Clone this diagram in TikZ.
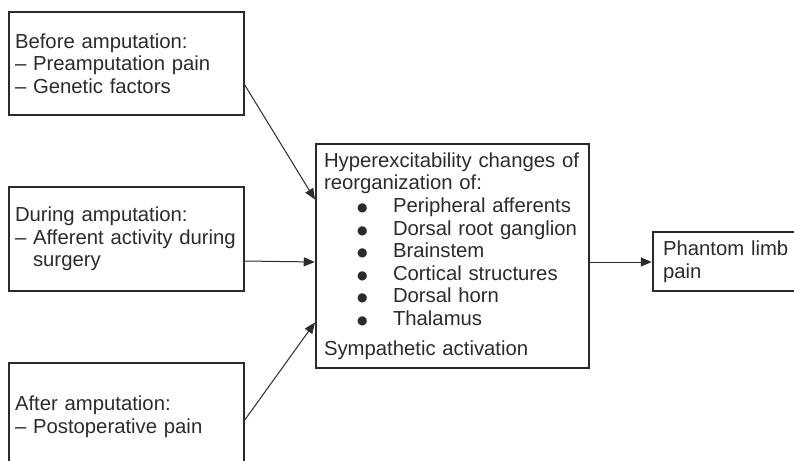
\documentclass[tikz,border=0pt]{standalone}
\usepackage{fontspec}
\setmainfont{Liberation Sans}
\newfontfamily\symfont{DejaVu Sans}
\usetikzlibrary{arrows.meta}
\definecolor{ink}{HTML}{2B2B2B}
\begin{document}
\begin{tikzpicture}[x=1pt,y=-1pt,
  box/.style={draw=ink, line width=1.5pt, text=ink, rectangle, align=left,
    inner xsep=0pt, inner ysep=0pt, font=\fontsize{20.3}{22.6}\selectfont},
  link/.style={draw=ink, line width=1pt, -{Triangle[length=11pt,width=9pt]}, shorten >=0.5pt}]
\useasboundingbox (0,0) rectangle (794,460);
% bullet list entry: indented dot, then the item text
\newcommand{\bul}[1]{\hspace*{33pt}\makebox[36pt][l]{\raisebox{1pt}{\symfont\fontsize{12}{12}\selectfont ●}}#1}

\node[box, minimum width=235pt, minimum height=103pt, text width=223pt] (b1) at (126.5,63.5)
  {Before amputation:\\– Preamputation pain\\– Genetic factors};
\node[box, minimum width=235pt, minimum height=104pt, text width=223pt] (b2) at (126.5,239)
  {During amputation:\\– Afferent activity during\\\phantom{– }surgery};
\node[box, minimum width=235pt, minimum height=107pt, text width=223pt] (b3) at (126.5,416.5)
  {After amputation:\\– Postoperative pain};
\node[box, minimum width=273pt, minimum height=224pt, text width=257pt] (c) at (452.5,256)
  {Hyperexcitability changes of\\reorganization of:\\
   \bul{Peripheral afferents}\\\bul{Dorsal root ganglion}\\\bul{Brainstem}\\
   \bul{Cortical structures}\\\bul{Dorsal horn}\\\bul{Thalamus}\\[7pt]
   Sympathetic activation};
\node[box, minimum width=160pt, minimum height=59pt, text width=140pt] (p) at (733,261.5)
  {Phantom limb\\pain};

\draw[link] ([yshift=-21.5pt]b1.east) -- ([yshift=56pt]c.west);
\draw[link] ([yshift=-22pt]b2.east) -- ([yshift=-6pt]c.west);
\draw[link] ([yshift=-3.5pt]b3.east) -- ([yshift=-66pt]c.west);
\draw[link] ([yshift=-6pt]c.east) -- ([yshift=-6pt]c.east -| p.west);
\end{tikzpicture}
\end{document}
